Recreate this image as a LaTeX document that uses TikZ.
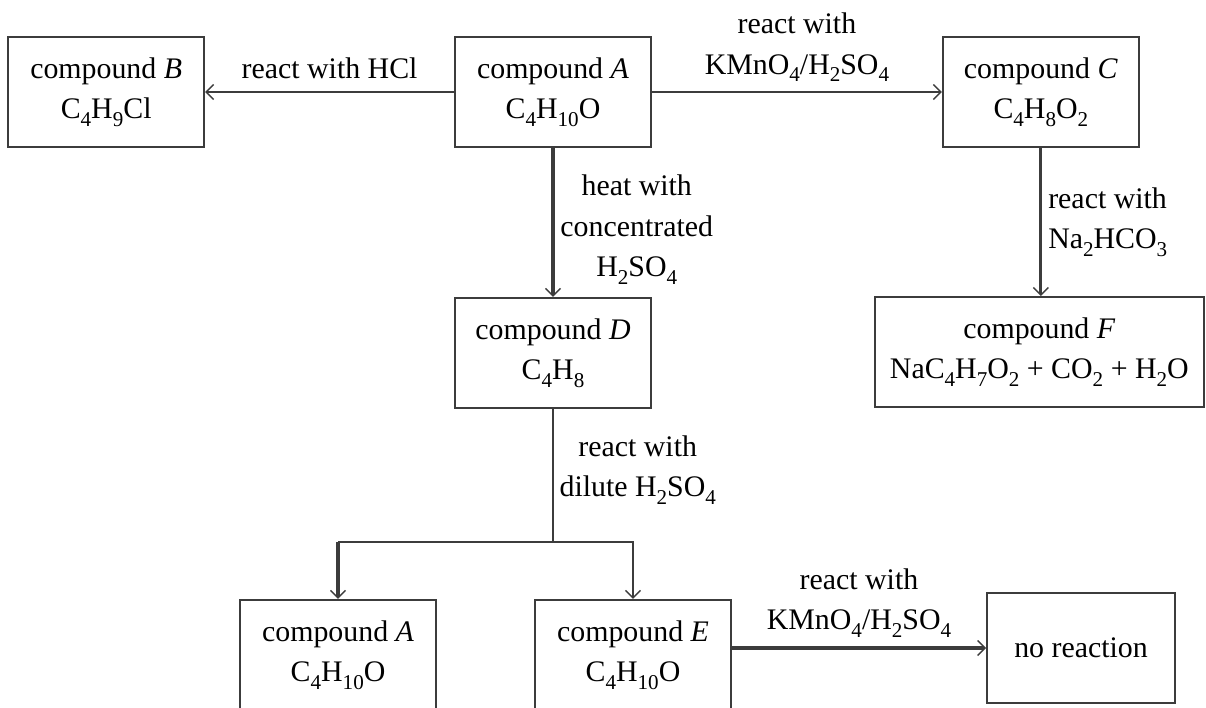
\documentclass[tikz,border=0pt]{standalone}
\usepackage{fontspec}
\setmainfont{Liberation Serif}
\usetikzlibrary{arrows.meta, positioning, calc}
\definecolor{boxgray}{RGB}{60,60,60}
\newcommand{\chsub}[1]{\raisebox{-0.55ex}{\fontsize{12}{12}\selectfont #1}}

\begin{document}
\begin{tikzpicture}[
  x=0.02cm, y=-0.02cm,
  font=\fontsize{17}{23}\selectfont,
  cmpd/.style={
    draw=boxgray,
    line width=1.1pt,
    minimum width=3.92cm,
    minimum height=2.2cm,
    align=center
  },
  arrow/.style={-{Straight Barb[length=1.5mm, width=3mm, line width=0.8pt]}, boxgray, line width=0.8pt},
  heavy/.style={line width=1.8pt},
  cond/.style={text=black, align=center}
]
\useasboundingbox (0,0) rectangle (1206,707);
\node[cmpd] (cmpdA) at (553,92)
  {compound \textit{A}\\C\chsub{4}H\chsub{10}O};
\node[cmpd, left=4.98cm of cmpdA] (cmpdB)
  {compound \textit{B}\\C\chsub{4}H\chsub{9}Cl};
\node[cmpd, right=5.8cm of cmpdA] (cmpdC)
  {compound \textit{C}\\C\chsub{4}H\chsub{8}O\chsub{2}};
\node[cmpd, below=2.98cm of cmpdA] (cmpdD)
  {compound \textit{D}\\C\chsub{4}H\chsub{8}};
\node[cmpd, minimum width=6.58cm, below=2.96cm of cmpdC, xshift=-0.03cm] (cmpdF)
  {compound \textit{F}\\NaC\chsub{4}H\chsub{7}O\chsub{2} + CO\chsub{2} + H\chsub{2}O};
\node[cmpd, below=3.8cm of cmpdD, xshift=-4.3cm] (cmpdAA)
  {compound \textit{A}\\C\chsub{4}H\chsub{10}O};
\node[cmpd, below=3.8cm of cmpdD, xshift=1.6cm] (cmpdE)
  {compound \textit{E}\\C\chsub{4}H\chsub{10}O};
\node[cmpd, minimum width=3.76cm] (noreact) at (1081,648) {no reaction};
\coordinate (split) at ($(cmpdD.south)+(0,133)$);
\draw[arrow] (cmpdA) -- node[cond, above=4pt] {react with HCl} (cmpdB);
\draw[arrow] (cmpdA) -- node[cond, above=2pt]
  {react with\\KMnO\chsub{4}/H\chsub{2}SO\chsub{4}} (cmpdC);
\draw[arrow, heavy] (cmpdA) -- node[cond, right, yshift=-4pt]
  {heat with\\concentrated\\H\chsub{2}SO\chsub{4}} (cmpdD);
\draw[arrow, heavy] (cmpdC.south) -- node[cond, right, align=left]
  {react with\\Na\chsub{2}HCO\chsub{3}} (cmpdC.south |- cmpdF.north);
\draw[boxgray, line width=0.8pt] (cmpdD.south) -- node[cond, right, yshift=3pt]
  {react with\\dilute H\chsub{2}SO\chsub{4}} (split);
\draw[boxgray, line width=0.8pt] (split) -- (split -| cmpdAA);
\draw[arrow, heavy] (split -| cmpdAA) -- (cmpdAA);
\draw[arrow] (split) -| (cmpdE);
\draw[arrow, heavy] (noreact -| cmpdE.east) -- node[cond, above=2pt]
  {react with\\KMnO\chsub{4}/H\chsub{2}SO\chsub{4}} (noreact.west);
\end{tikzpicture}
\end{document}
